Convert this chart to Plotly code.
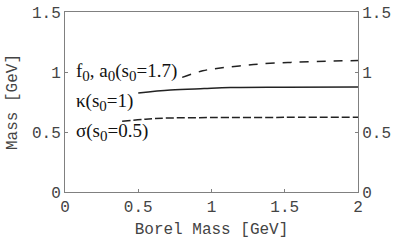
import plotly.graph_objects as go

# Upper dashed curve: f0, a0 (s0=1.7)
fa_x = [0.80, 0.94, 1.06, 1.19, 1.33, 1.54, 1.79, 2.0]
fa_y = [0.955, 1.01, 1.033, 1.05, 1.067, 1.08, 1.09, 1.096]
# Solid curve: kappa (s0=1)
k_x = [0.50, 0.72, 0.95, 1.13, 1.5, 2.0]
k_y = [0.825, 0.85, 0.862, 0.87, 0.873, 0.875]
# Lower dashed curve: sigma (s0=0.5)
s_x = [0.39, 0.55, 0.72, 1.0, 1.5, 2.0]
s_y = [0.59, 0.607, 0.617, 0.62, 0.622, 0.622]

ticks = [0, 0.5, 1, 1.5, 2]
tick_text = ["0", "0.5", "1", "1.5", "2"]
yticks = [0, 0.5, 1, 1.5]
ytick_text = ["0", "0.5", "1", "1.5"]

SUB0 = "<sub><span style='font-size:15px'>0</span></sub>"
labels = ["f" + SUB0 + ", a" + SUB0 + "(s" + SUB0 + "=1.7)",
          "κ(s" + SUB0 + "=1)",
          "σ(s" + SUB0 + "=0.5)"]
label_y = [1.0, 0.75, 0.5]

mono = "Liberation Mono, Courier New, monospace"
serif = "Liberation Serif, Times New Roman, serif"

fig = go.Figure()
fig.add_trace(go.Scatter(x=fa_x, y=fa_y, mode="lines", line=dict(color="#222", width=1.5, dash="9px,8px"), line_shape="spline", showlegend=False))
fig.add_trace(go.Scatter(x=k_x, y=k_y, mode="lines", line=dict(color="#222", width=1.5), line_shape="spline", showlegend=False))
fig.add_trace(go.Scatter(x=s_x, y=s_y, mode="lines", line=dict(color="#222", width=1.5, dash="8px,3px"), line_shape="spline", showlegend=False))
fig.add_trace(go.Scatter(x=[None], y=[None], yaxis="y2", showlegend=False))

for t, yy in zip(labels, label_y):
    fig.add_annotation(x=0.06, y=yy, text=t, showarrow=False, xanchor="left", yanchor="middle",
                       font=dict(family=serif, size=19, color="#111"))

axis_common = dict(showgrid=False, zeroline=False, showline=True, linecolor="#808080", linewidth=1,
                   ticks="inside", ticklen=3, tickcolor="#808080", automargin=False,
                   tickfont=dict(family=mono, size=16, color="#444"))

fig.update_layout(
    width=397, height=241,
    margin=dict(l=65, r=39, t=12, b=49),
    paper_bgcolor="white", plot_bgcolor="white",
    xaxis=dict(range=[0, 2], tickvals=ticks, ticktext=tick_text, mirror=True,
               title=dict(text="Borel Mass [GeV]", font=dict(family=mono, size=16, color="#444"), standoff=6),
               **axis_common),
    yaxis=dict(range=[0, 1.5], tickvals=yticks, ticktext=ytick_text, mirror=True,
               title=dict(text="Mass [GeV]", font=dict(family=mono, size=16, color="#444"), standoff=10),
               **axis_common),
    yaxis2=dict(range=[0, 1.5], tickvals=yticks, ticktext=ytick_text, overlaying="y", side="right",
                **axis_common),
)

fig.write_html("out.html", config={"displayModeBar": False},
               post_script="document.body.style.margin='0';")
